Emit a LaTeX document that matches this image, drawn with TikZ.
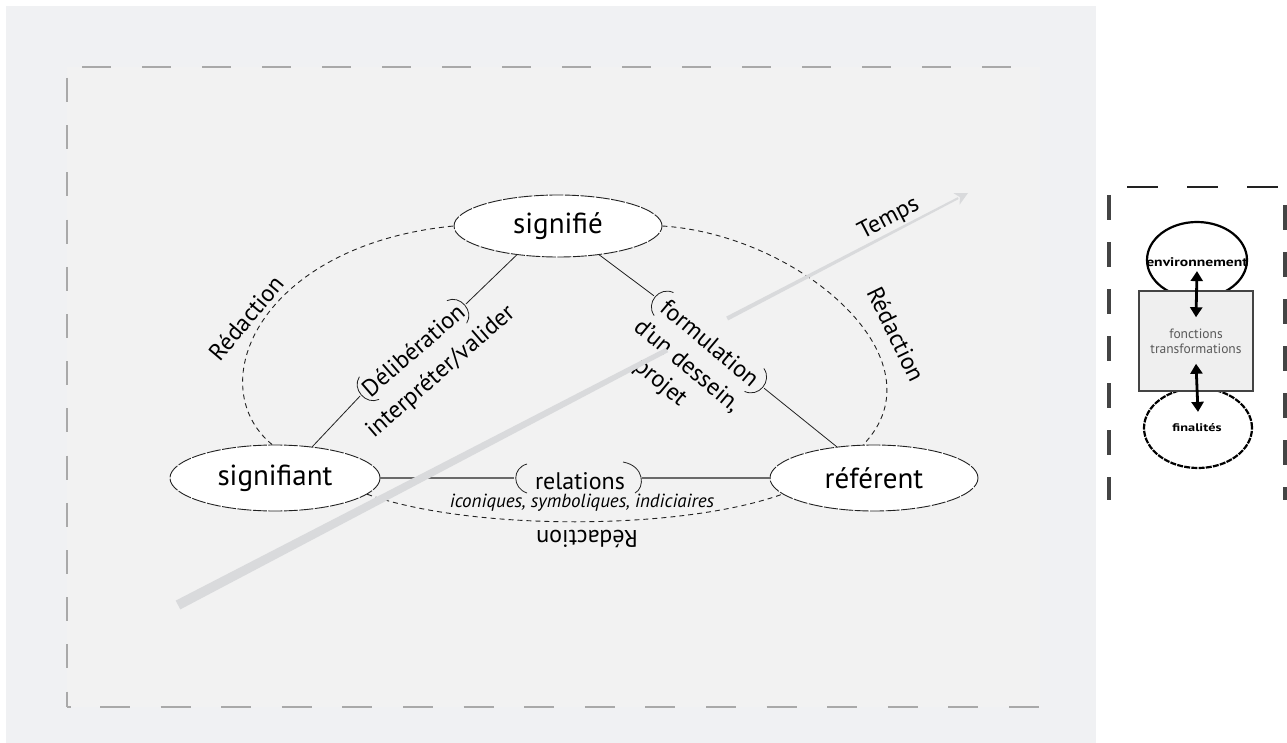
\documentclass[tikz,border=0pt]{standalone}
\usepackage{fontspec}
\setmainfont{PT Sans}
\usetikzlibrary{shapes.geometric,arrows.meta}

\definecolor{panel}{HTML}{F0F1F3}
\definecolor{innerpanel}{HTML}{F2F2F2}
\definecolor{framegray}{HTML}{A9A9A9}
\definecolor{ink}{HTML}{222222}
\definecolor{timegray}{HTML}{D9DADC}
\definecolor{relgray}{HTML}{6A6A6A}
\definecolor{boxfill}{HTML}{EFEFEF}
\definecolor{sidegray}{HTML}{444444}

\begin{document}
\begin{tikzpicture}[x=1pt,y=-1pt,
  term/.style={ellipse, fill=white, draw=ink, line width=0.9pt,
    dash pattern=on 14pt off 1.5pt, inner sep=0pt,
    font=\fontsize{29}{33}\selectfont},
  lbl/.style={inner sep=0pt, font=\fontsize{24}{28}\selectfont},
  sublbl/.style={inner sep=0pt, font=\itshape\fontsize{19}{22}\selectfont},
  link/.style={draw=ink, line width=0.8pt},
  redac/.style={draw=ink, line width=0.9pt, dash pattern=on 5pt off 4pt},
  rel/.style={draw=relgray, line width=2.6pt},
  framel/.style={draw=framegray, line width=1.8pt},
  sidev/.style={draw=sidegray, line width=4pt, dash pattern=on 25pt off 22pt},
  sidetop/.style={draw=ink, line width=2pt, dash pattern=on 31pt off 29pt},
  sysell/.style={ellipse, draw=black, line width=2.2pt, inner sep=0pt},
  systxt/.style={inner sep=0pt, font=\bfseries\fontsize{12.5}{14}\selectfont},
  bigarrow/.style={draw=black, line width=2.8pt,
    {Triangle[width=12pt,length=10pt]}-{Triangle[width=12pt,length=10pt]}},
  timeshape/.style={fill=timegray, draw=none}
]
\useasboundingbox (0,0) rectangle (1287,743);
\fill[white] (0,0) rectangle (1287,743);

% grey panel and its dashed frame
\fill[panel] (6,6) rectangle (1096,743);
\fill[innerpanel] (67,67) rectangle (1040,707);
\draw[framel, dash pattern=on 29pt off 31pt] (82,67) -- (1022,67);
\draw[framel, dash pattern=on 30pt off 30.6pt] (100,707) -- (1040,707);
\draw[framel] (67,707) -- (71,707);
\draw[framel, dash pattern=on 24pt off 23.2pt] (67,78) -- (67,707);

% the three poles of the triangle
\node[term, minimum width=208pt, minimum height=62pt] (sig) at (558,226) {signifié};
\node[term, minimum width=210pt, minimum height=66pt] (sgt) at (275,478) {signifiant};
\node[term, minimum width=208pt, minimum height=66pt] (ref) at (874,478) {référent};

% Rédaction arcs
\draw[redac] (sgt.95) .. controls (200,385) and (260,245) .. (sig.west);
\draw[redac] (sig.east) .. controls (800,235) and (945,360) .. (ref.108);
\draw[redac] (sgt.-10) .. controls (470,531) and (680,531) .. (ref.190);

\node[lbl, rotate=50] (redl) at (246,318) {Rédaction};
\node[lbl, rotate=-64] (redr) at (896,334) {Rédaction};
\node[lbl, rotate=180] (redb) at (587,539) {Rédaction};

% Délibération, between signifiant and signifié
\begin{scope}[shift={(413,350)}, rotate=41]
  \coordinate (dl) at (-70,0);
  \coordinate (dr) at (70,0);
  \draw[link] (-58,-15) .. controls (-72,-11) and (-72,11) .. (-58,15);
  \draw[link] (58,-15) .. controls (72,-11) and (72,11) .. (58,15);
\end{scope}
\node[lbl, rotate=41] (delib) at (413,350) {Délibération};
\node[lbl, rotate=41] (interp) at (441,372) {interpréter/valider};
\draw[link] (sgt.40) -- (dl);
\draw[link] (dr) -- (sig.215);

% formulation, between signifié and référent
\begin{scope}[shift={(709,342)}, rotate=-40]
  \coordinate (fl) at (-72,0);
  \coordinate (fr) at (72,0);
  \draw[link] (-59,-15) .. controls (-74,-11) and (-74,11) .. (-59,15);
  \draw[link] (59,-15) .. controls (74,-11) and (74,11) .. (59,15);
\end{scope}
\node[lbl, rotate=-40] (form) at (710,343) {formulation};
\node[lbl, rotate=-40] (dessein) at (687,366) {d'un dessein,};
\node[lbl, rotate=-40] (projet) at (660,383) {projet};
\draw[link] (sig.-35) -- (fl);
\draw[link] (fr) -- (ref.140);

% Temps arrow, upper part passing behind the triangle
\fill[timeshape] (726.2,316.6) -- (957.7,197.2) -- (958.7,199.0) -- (728.2,320.4) -- cycle;
\fill[timeshape] (968,193) -- (953.5,193.2) -- (960,197.2) -- (959.5,204.8) -- cycle;
\node[lbl, rotate=27.5] (temps) at (889,219) {Temps};

% relations, between signifiant and référent
\begin{scope}[shift={(578,478)}]
  \coordinate (rl) at (-64,0);
  \coordinate (rr) at (64,0);
  \draw[link] (-51,-14) .. controls (-66,-10) and (-66,10) .. (-51,15);
  \draw[link] (45,-16) .. controls (67,-12) and (67,10) .. (57,15);
\end{scope}
\draw[rel] (sgt.east) -- (rl);
\draw[rel] (rr) -- (ref.west);
\node[lbl] (relations) at (580,481) {relations};
\node[sublbl] (kinds) at (582,503) {iconiques, symboliques, indiciaires};

% Temps arrow, lower part in front of the triangle
\fill[timeshape] (175.7,600.6) -- (665.8,347.8) -- (668.1,352.2) -- (180.3,609.4) -- cycle;

% system panel on the right
\draw[sidetop] (1127,187) -- (1287,187);
\draw[sidev] (1109,195) -- (1109,500);
\draw[sidev] (1285,205) -- (1285,500);

\node[sysell, minimum width=100pt, minimum height=76pt] (env) at (1197,260) {};
\node[sysell, minimum width=108pt, minimum height=80pt,
  dash pattern=on 6pt off 1.2pt] (fin) at (1198,428) {};
\node[draw=sidegray, line width=1.5pt, fill=boxfill, minimum width=114pt,
  minimum height=100pt, inner sep=0pt, align=center, text=black!65,
  font=\fontsize{13.5}{15}\selectfont] (box) at (1196,341) {fonctions\\transformations};
\node[systxt] (envtxt) at (1197,262) {\scalebox{1.25}[1]{environnement}};
\node[systxt, font=\bfseries\fontsize{11}{12}\selectfont] (fintxt) at (1197,428) {\scalebox{1.3}[1]{finalités}};
\draw[bigarrow] ([yshift=28pt]env.south) -- ([yshift=-27pt]box.north);
\draw[bigarrow] ([yshift=28pt]box.south) -- ([yshift=-25pt]fin.north);
\end{tikzpicture}
\end{document}
